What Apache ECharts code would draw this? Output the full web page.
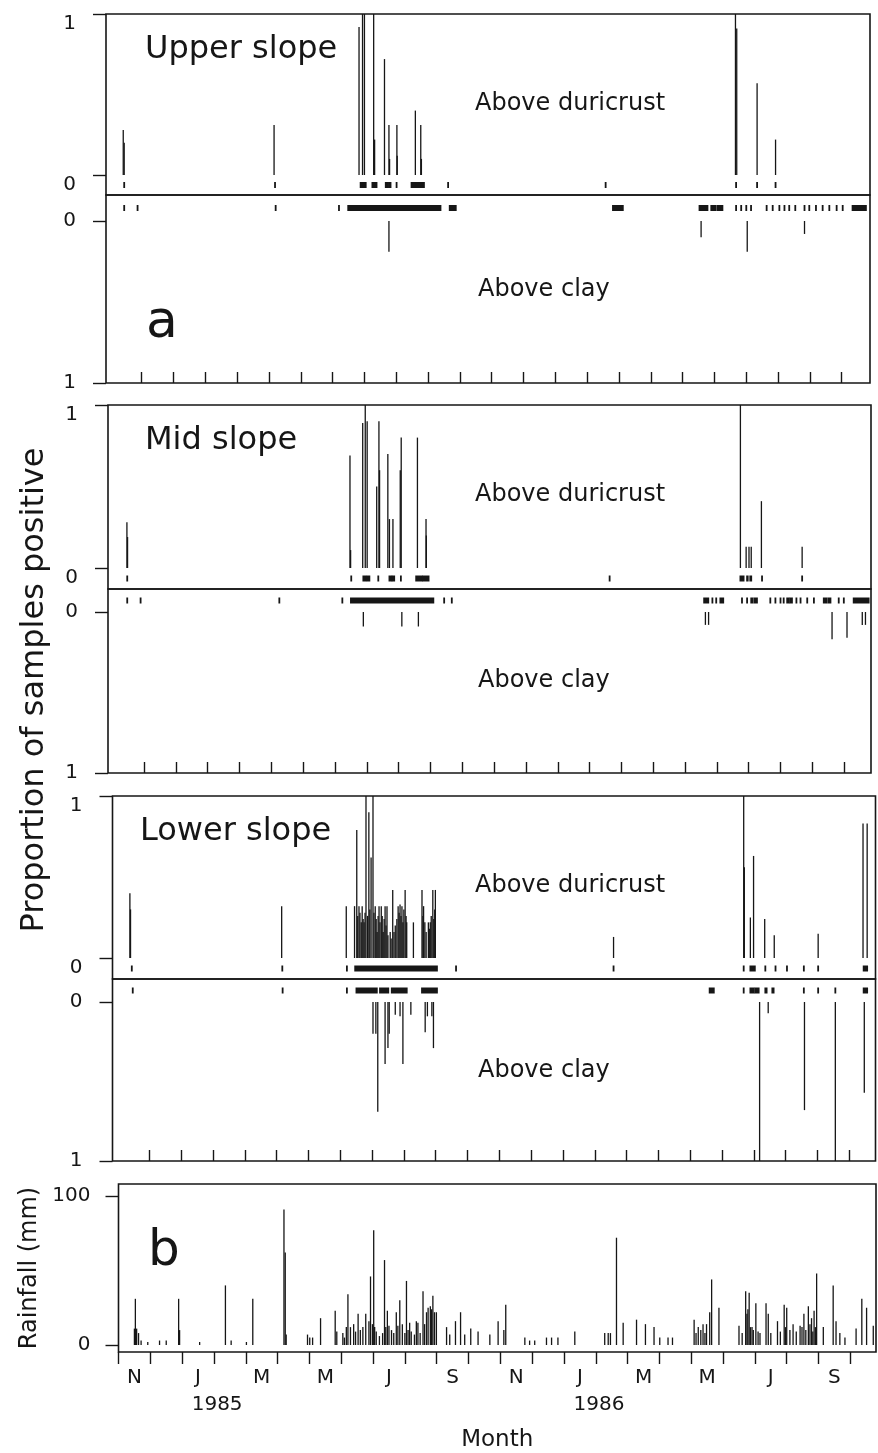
<!DOCTYPE html>
<html>
<head>
<meta charset="utf-8">
<script src="https://cdn.jsdelivr.net/npm/echarts@6/dist/echarts.min.js"></script>
<style>
  html, body { margin: 0; background: #fff; }
  #chart { width: 878px; height: 1453px; }
</style>
</head>
<body>
<div id="chart"></div>
<script>
// x values are months counted from 1 Nov 1984 (0 = start of Nov 1984)
var monthLabels = ['N', 'J', 'M', 'M', 'J', 'S', 'N', 'J', 'M', 'M', 'J', 'S'];
var monthLabelPos = [0.5, 2.5, 4.5, 6.5, 8.5, 10.5, 12.5, 14.5, 16.5, 18.5, 20.5, 22.5];
var yearLabels = ['1985', '1986'];
var yearLabelPos = [3.1, 15.1];

// proportion of samples positive: [month, proportion]
var upperDuri = [[0.42,0.28],[0.45,0.20],[5.16,0.31],[7.83,0.92],[7.94,1.0],[8.00,1.0],[8.29,1.0],[8.32,0.22],
  [8.63,0.72],[8.77,0.31],[8.79,0.10],[9.02,0.31],[9.03,0.12],[9.60,0.40],[9.77,0.31],[9.79,0.10],
  [19.66,1.0],[19.70,0.91],[20.34,0.57],[20.92,0.22]];
var upperClay = [[8.77,0.19],[18.58,0.10],[20.03,0.19],[21.83,0.08]];
// sampling dates: [first month, last month] of each run of samples
var upperDuriSamples = [[0.45,0.45],[5.19,5.19],[7.88,7.93],[7.97,8.04],[8.25,8.38],[8.67,8.73],[8.77,8.82],
  [9.01,9.01],[9.48,9.60],[9.64,9.75],[9.78,9.87],[10.63,10.63],[15.58,15.58],[19.68,19.68],[20.34,20.34],[20.92,20.92]];
var upperClaySamples = [[0.45,0.45],[0.87,0.87],[5.21,5.21],[7.20,7.20],[7.49,10.39],[10.68,10.87],[15.81,16.12],
  [18.53,18.78],[18.90,19.03],[19.09,19.25],[19.68,19.68],[19.84,19.84],[20.00,20.00],[20.15,20.15],[20.64,20.64],
  [20.83,20.83],[21.04,21.04],[21.20,21.20],[21.35,21.35],[21.54,21.54],[21.83,21.83],[21.98,21.98],[22.19,22.19],
  [22.40,22.40],[22.61,22.61],[22.84,22.84],[23.03,23.03],[23.34,23.76]];

var midDuri = [[0.46,0.28],[0.48,0.19],[7.47,0.69],[7.49,0.11],[7.87,0.89],[7.95,1.0],[8.01,0.90],[8.31,0.50],
  [8.38,0.90],[8.40,0.60],[8.66,0.70],[8.71,0.30],[8.82,0.30],[9.05,0.60],[9.08,0.80],[9.59,0.80],[9.86,0.30],
  [9.87,0.20],[19.74,1.0],[19.92,0.13],[20.01,0.13],[20.08,0.13],[20.40,0.41],[21.68,0.13]];
var midClay = [[7.89,0.09],[9.10,0.09],[9.62,0.09],[18.64,0.08],[18.74,0.08],[22.62,0.17],[23.09,0.16],
  [23.57,0.08],[23.67,0.08]];
var midDuriSamples = [[0.47,0.47],[7.51,7.51],[7.89,7.95],[8.00,8.08],[8.36,8.36],[8.71,8.77],[8.81,8.86],
  [9.07,9.07],[9.55,9.72],[9.76,9.94],[15.63,15.63],[19.74,19.84],[19.95,19.97],[20.05,20.08],[20.42,20.42],[21.68,21.68]];
var midClaySamples = [[0.47,0.47],[0.89,0.89],[5.25,5.25],[7.23,7.23],[7.50,10.09],[10.43,10.43],[10.67,10.67],
  [18.60,18.73],[18.86,18.86],[18.98,18.98],[19.11,19.20],[19.79,19.79],[19.95,19.95],[20.08,20.12],[20.18,20.26],
  [20.68,20.68],[20.84,20.84],[21.00,21.00],[21.10,21.10],[21.21,21.25],[21.30,21.36],[21.50,21.50],[21.63,21.63],
  [21.84,21.84],[22.05,22.05],[22.36,22.44],[22.50,22.57],[22.83,22.83],[22.99,22.99],[23.30,23.77]];

var lowerDuri = [[0.39,0.40],[0.41,0.30],[5.16,0.32],[7.19,0.32],[7.45,0.32],[7.52,0.79],[7.55,0.26],[7.59,0.32],
  [7.62,0.28],[7.66,0.22],[7.69,0.32],[7.72,0.24],[7.75,0.22],[7.78,0.28],[7.81,1.0],[7.86,0.26],[7.90,0.90],
  [7.93,0.30],[7.97,0.62],[8.03,1.0],[8.06,0.28],[8.10,0.32],[8.13,0.24],[8.16,0.16],[8.19,0.26],[8.22,0.32],
  [8.25,0.22],[8.29,0.32],[8.32,0.26],[8.35,0.16],[8.38,0.24],[8.41,0.32],[8.44,0.20],[8.47,0.32],[8.50,0.14],
  [8.57,0.16],[8.60,0.12],[8.65,0.42],[8.69,0.16],[8.73,0.20],[8.78,0.24],[8.82,0.32],[8.85,0.28],[8.88,0.33],
  [8.91,0.26],[8.94,0.32],[8.97,0.22],[9.00,0.30],[9.04,0.42],[9.07,0.26],[9.09,0.22],[9.30,0.22],[9.57,0.42],
  [9.60,0.26],[9.62,0.32],[9.66,0.22],[9.70,0.16],[9.77,0.22],[9.80,0.18],[9.83,0.22],[9.86,0.26],[9.91,0.42],
  [9.94,0.24],[9.97,0.30],[9.99,0.42],[15.59,0.13],[19.68,1.0],[19.70,0.56],[19.89,0.25],[19.99,0.63],
  [20.34,0.24],[20.64,0.14],[22.02,0.15],[23.43,0.83],[23.56,0.83]];
var lowerClay = [[8.03,0.20],[8.12,0.20],[8.18,0.69],[8.41,0.39],[8.50,0.29],[8.54,0.20],[8.73,0.08],[8.88,0.09],
  [8.97,0.39],[9.22,0.08],[9.67,0.19],[9.74,0.09],[9.88,0.09],[9.93,0.29],[20.18,1.0],[20.45,0.07],[21.59,0.68],
  [22.56,1.0],[23.47,0.57]];
var lowerDuriSamples = [[0.45,0.45],[5.18,5.18],[7.21,7.21],[7.47,10.04],[10.64,10.64],[15.59,15.59],[19.68,19.68],
  [19.89,20.03],[20.36,20.36],[20.68,20.68],[21.04,21.04],[21.57,21.57],[22.02,22.02],[23.45,23.56]];
var lowerClaySamples = [[0.48,0.48],[5.19,5.19],[7.21,7.21],[7.51,8.15],[8.25,8.51],[8.62,9.09],[9.57,10.04],
  [18.61,18.74],[19.68,19.68],[19.89,20.00],[20.05,20.15],[20.36,20.40],[20.58,20.62],[21.57,21.57],[22.02,22.02],
  [22.56,22.56],[23.45,23.56]];

// daily rainfall (mm): [month, mm]
var rainfall = [[0.50,11],[0.53,31],[0.57,11],[0.63,8],[0.71,3],[0.92,2],[1.29,3],[1.50,3],[1.89,31],[1.92,10],
  [2.55,2],[3.36,40],[3.54,3],[4.02,2],[4.22,31],[5.20,91],[5.24,62],[5.27,7],[5.94,7],[6.01,5],[6.10,5],[6.35,18],
  [6.81,23],[6.86,9],[7.05,8],[7.10,5],[7.16,12],[7.21,34],[7.29,12],[7.39,14],[7.45,9],[7.53,21],[7.60,10],
  [7.68,12],[7.77,21],[7.87,16],[7.92,46],[7.98,14],[8.02,77],[8.05,12],[8.10,9],[8.20,6],[8.30,8],[8.36,57],
  [8.40,12],[8.45,23],[8.50,13],[8.58,10],[8.65,8],[8.73,22],[8.78,13],[8.84,30],[8.92,14],[9.00,8],[9.05,43],
  [9.10,10],[9.15,15],[9.20,9],[9.30,7],[9.36,16],[9.41,15],[9.48,8],[9.57,36],[9.62,14],[9.68,22],[9.73,25],
  [9.80,26],[9.84,24],[9.88,33],[9.93,22],[9.99,22],[10.31,12],[10.41,7],[10.59,16],[10.75,22],[10.88,7],
  [11.07,11],[11.30,9],[11.67,7],[11.93,16],[12.11,10],[12.17,27],[12.77,5],[12.92,3],[13.08,3],[13.45,5],
  [13.61,5],[13.81,5],[14.34,9],[15.28,8],[15.39,8],[15.46,8],[15.65,72],[15.86,15],[16.28,17],[16.56,14],
  [16.83,12],[17.01,5],[17.27,5],[17.41,5],[18.09,17],[18.15,8],[18.22,12],[18.30,10],[18.37,14],[18.43,8],
  [18.48,14],[18.58,22],[18.64,44],[18.87,25],[19.50,13],[19.60,8],[19.71,36],[19.75,21],[19.78,24],[19.82,35],
  [19.86,12],[19.91,12],[19.95,10],[20.03,28],[20.10,9],[20.16,8],[20.35,28],[20.42,21],[20.50,8],[20.71,16],
  [20.80,9],[20.92,27],[20.96,12],[21.00,25],[21.10,10],[21.20,14],[21.30,9],[21.42,13],[21.48,12],[21.54,21],
  [21.60,10],[21.68,26],[21.73,14],[21.78,18],[21.82,9],[21.86,23],[21.90,12],[21.94,48],[22.15,12],[22.46,40],
  [22.55,16],[22.67,8],[22.83,5],[23.18,11],[23.36,31],[23.51,25],[23.72,13]];

var INK = '#161616';
var FONT = '"DejaVu Sans", "Liberation Sans", sans-serif';
var MONTH_PX = 31.82;

var slopeTicks = [];
for (var k = 1; k <= 23; k++) slopeTicks.push(k);
var rainTicks = [];
for (var k = 0; k <= 23; k++) rainTicks.push(k);

// pixel layout of the three slope panels
var panels = [
  { title: 'Upper slope', titleX: 145, left: 106, right: 870, top: 14, zeroD: 175, mid: 195, zeroC: 221, bottom: 383, tick1: 141.7,
    duri: upperDuri, clay: upperClay, duriRuns: upperDuriSamples, clayRuns: upperClaySamples },
  { title: 'Mid slope', titleX: 145, left: 108, right: 871, top: 405, zeroD: 568, mid: 589, zeroC: 612, bottom: 773, tick1: 144.1,
    duri: midDuri, clay: midClay, duriRuns: midDuriSamples, clayRuns: midClaySamples },
  { title: 'Lower slope', titleX: 140, left: 112.5, right: 875.5, top: 796, zeroD: 958, mid: 979, zeroC: 1002, bottom: 1161, tick1: 149.3,
    duri: lowerDuri, clay: lowerClay, duriRuns: lowerDuriSamples, clayRuns: lowerClaySamples }
];

function stick(params, api) {
  var x = api.value(0), v = api.value(1);
  var a = api.coord([x, 0]), b = api.coord([x, v]);
  return { type: 'line', shape: { x1: a[0], y1: a[1], x2: b[0], y2: b[1] },
    style: { stroke: INK, lineWidth: 1.3 } };
}

function sampleRun(params, api) {
  var a = api.coord([api.value(0), 0]);
  var b = api.coord([api.value(1), 0]);
  var cs = params.coordSys;
  var lineY = a[1] > cs.y + cs.height / 2 ? cs.y + cs.height : cs.y;
  var yc = (a[1] + lineY) / 2;
  return { type: 'rect', shape: { x: a[0] - 0.9, y: yc - 3, width: b[0] - a[0] + 1.8, height: 6 },
    style: { fill: INK } };
}

var tickLine = { color: INK, width: 1.4 };
var labelStyle = { color: INK, fontSize: 20, fontFamily: FONT };

var grids = [], xAxes = [], yAxes = [], series = [], texts = [];

panels.forEach(function (p) {
  var w = p.right - p.left;
  var xmin = 1 - (p.tick1 - p.left) / MONTH_PX;
  var xmax = 1 + (p.right - p.tick1) / MONTH_PX;
  var gD = grids.length;
  grids.push({ left: p.left, top: p.top, width: w, height: p.mid - p.top, show: true, borderColor: INK, borderWidth: 1.6 });
  grids.push({ left: p.left, top: p.mid, width: w, height: p.bottom - p.mid, show: true, borderColor: INK, borderWidth: 1.6 });
  var gC = gD + 1;

  xAxes.push({ type: 'value', gridIndex: gD, min: xmin, max: xmax, show: false });
  xAxes.push({ type: 'value', gridIndex: gC, min: xmin, max: xmax, position: 'bottom',
    axisLine: { show: false, onZero: false }, splitLine: { show: false }, axisLabel: { show: false },
    axisTick: { show: true, inside: true, length: 11, customValues: slopeTicks, lineStyle: tickLine } });

  yAxes.push({ type: 'value', gridIndex: gD, min: -(p.mid - p.zeroD) / (p.zeroD - p.top), max: 1,
    axisLine: { show: false, onZero: false }, splitLine: { show: false },
    axisTick: { show: true, length: 13, customValues: [0, 1], lineStyle: tickLine },
    axisLabel: Object.assign({ customValues: [0, 1], margin: 30, verticalAlign: 'top' }, labelStyle) });
  yAxes.push({ type: 'value', gridIndex: gC, inverse: true, min: -(p.zeroC - p.mid) / (p.bottom - p.zeroC), max: 1,
    axisLine: { show: false, onZero: false }, splitLine: { show: false },
    axisTick: { show: true, length: 13, customValues: [0, 1], lineStyle: tickLine },
    axisLabel: Object.assign({ customValues: [0, 1], margin: 30 }, labelStyle) });

  series.push({ type: 'custom', xAxisIndex: gD, yAxisIndex: gD, renderItem: stick, data: p.duri, silent: true });
  series.push({ type: 'custom', xAxisIndex: gD, yAxisIndex: gD, renderItem: sampleRun, data: p.duriRuns, silent: true });
  series.push({ type: 'custom', xAxisIndex: gC, yAxisIndex: gC, renderItem: stick, data: p.clay, silent: true });
  series.push({ type: 'custom', xAxisIndex: gC, yAxisIndex: gC, renderItem: sampleRun, data: p.clayRuns, silent: true });

  texts.push({ type: 'text', x: p.titleX, y: p.top + 36,
    style: { text: p.title, font: '32px ' + FONT, fill: INK, verticalAlign: 'middle' } });
  texts.push({ type: 'text', x: 475, y: p.top + 90,
    style: { text: 'Above duricrust', font: '24px ' + FONT, fill: INK, verticalAlign: 'middle' } });
  texts.push({ type: 'text', x: 478, y: p.zeroC + 69,
    style: { text: 'Above clay', font: '24px ' + FONT, fill: INK, verticalAlign: 'middle' } });
});

// rainfall panel
var rain = { left: 118.5, right: 876, top: 1184, zero: 1345, hundred: 1196, bottom: 1352 };
var gR = grids.length;
grids.push({ left: rain.left, top: rain.top, width: rain.right - rain.left, height: rain.bottom - rain.top,
  show: true, borderColor: INK, borderWidth: 1.6 });
var rUnit = (rain.zero - rain.hundred) / 100;
var rxmax = (rain.right - rain.left) / MONTH_PX;
xAxes.push({ type: 'value', gridIndex: gR, min: 0, max: rxmax, position: 'bottom',
  axisLine: { show: false, onZero: false }, splitLine: { show: false },
  axisTick: { show: true, length: 12, customValues: rainTicks, lineStyle: tickLine },
  axisLabel: Object.assign({ customValues: monthLabelPos, margin: 16,
    formatter: function (v) { return monthLabels[Math.round((v - 0.5) / 2)]; } }, labelStyle),
  name: 'Month', nameLocation: 'middle', nameGap: 77,
  nameTextStyle: { color: INK, fontSize: 23, fontFamily: FONT } });
xAxes.push({ type: 'value', gridIndex: gR, min: 0, max: rxmax, position: 'bottom',
  axisLine: { show: false, onZero: false }, splitLine: { show: false }, axisTick: { show: false },
  axisLabel: Object.assign({ customValues: yearLabelPos, margin: 43,
    formatter: function (v) { return yearLabels[Math.round((v - 3.1) / 12)]; } }, labelStyle) });
yAxes.push({ type: 'value', gridIndex: gR, min: -(rain.bottom - rain.zero) / rUnit, max: (rain.zero - rain.top) / rUnit,
  axisLine: { show: false, onZero: false }, splitLine: { show: false },
  axisTick: { show: true, length: 13, customValues: [0, 100], lineStyle: tickLine },
  axisLabel: Object.assign({ customValues: [0, 100], margin: 28 }, labelStyle),
  name: 'Rainfall (mm)', nameLocation: 'middle', nameGap: 70,
  nameTextStyle: { color: INK, fontSize: 24, fontFamily: FONT } });
series.push({ type: 'custom', xAxisIndex: xAxes.length - 2, yAxisIndex: gR, renderItem: stick, data: rainfall, silent: true });

texts.push({ type: 'text', x: 146, y: 323, style: { text: 'a', font: '52px ' + FONT, fill: INK, verticalAlign: 'middle' } });
texts.push({ type: 'text', x: 148, y: 1252, style: { text: 'b', font: '50px ' + FONT, fill: INK, verticalAlign: 'middle' } });
texts.push({ type: 'text', x: 35, y: 690, rotation: Math.PI / 2,
  style: { text: 'Proportion of samples positive', font: '32px ' + FONT, fill: INK, align: 'center', verticalAlign: 'middle' } });

var chart = echarts.init(document.getElementById('chart'));
chart.setOption({
  backgroundColor: '#fff',
  animation: false,
  grid: grids,
  xAxis: xAxes,
  yAxis: yAxes,
  series: series,
  graphic: texts
});
</script>
</body>
</html>
